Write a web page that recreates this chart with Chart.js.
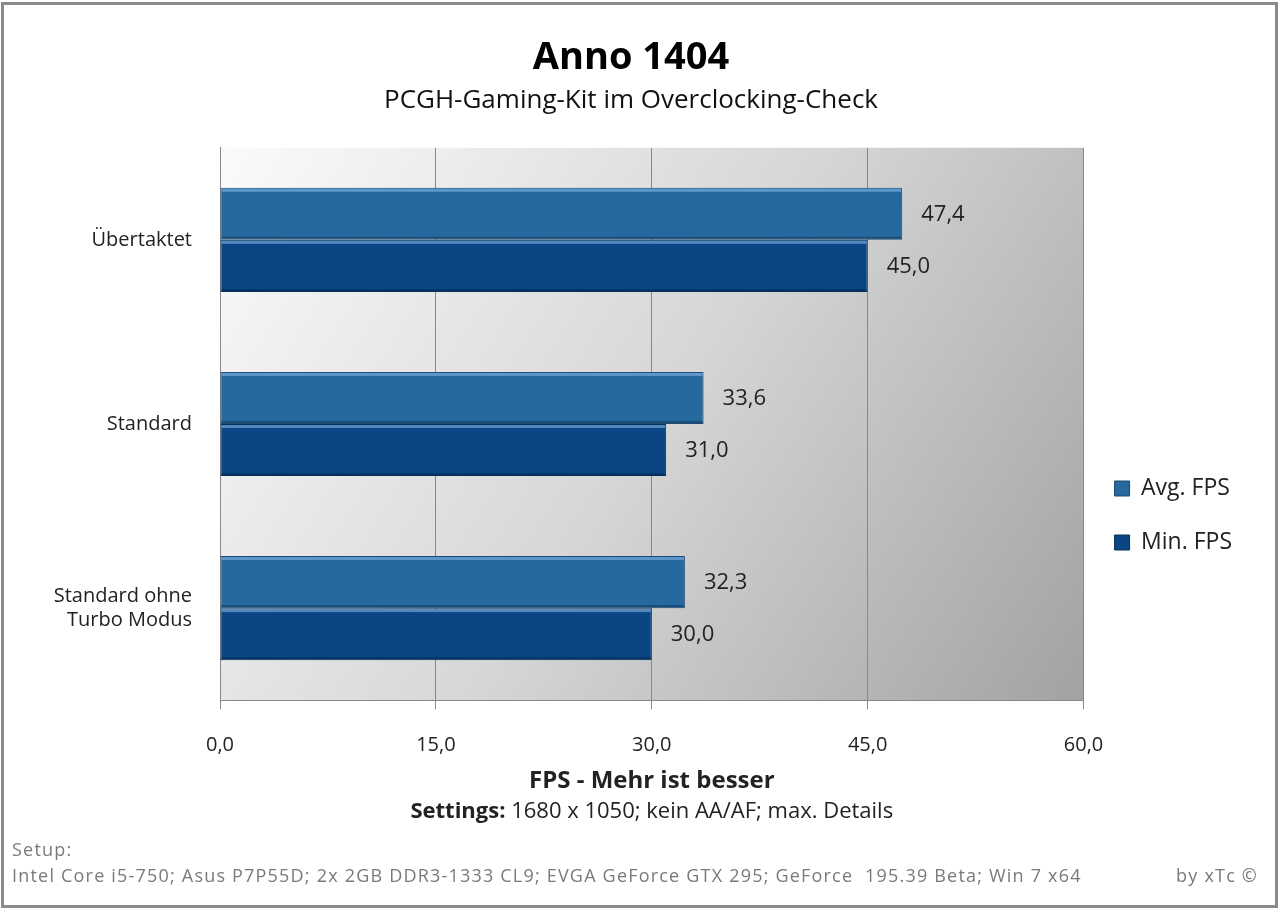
<!DOCTYPE html>
<html>
<head>
<meta charset="utf-8">
<script src="https://cdn.jsdelivr.net/npm/chart.js@4.4.1/dist/chart.umd.min.js"></script>
<style>
  html, body { margin: 0; padding: 0; background: #fff; }
  #box { position: relative; width: 1280px; height: 910px; }
</style>
</head>
<body>
<div id="box"><canvas id="chart" width="1280" height="910"></canvas></div>
<script>
const categories = [["Übertaktet"], ["Standard"], ["Standard ohne", "Turbo Modus"]];
const avgFps = [47.4, 33.6, 32.3];
const minFps = [45.0, 31.0, 30.0];
const xTicks = [0, 15, 30, 45, 60];

const avgColor = "#25699f";
const minColor = "#0a4684";
const font = "Open Sans";

const fmt = v => v.toFixed(1).replace(".", ",");

// gradient behind the plot
const plotBackground = {
  id: "plotBackground",
  beforeDraw(chart) {
    const { ctx, chartArea: a } = chart;
    const g = ctx.createLinearGradient(a.left, a.top, a.right, a.bottom);
    g.addColorStop(0, "#fbfbfb");
    g.addColorStop(0.5, "#d6d6d6");
    g.addColorStop(1, "#a2a2a2");
    ctx.save();
    ctx.fillStyle = g;
    ctx.fillRect(a.left, a.top, a.right - a.left, a.bottom - a.top);
    ctx.restore();
  }
};

// light edge on top of each bar + value labels
const barExtras = {
  id: "barExtras",
  afterDatasetsDraw(chart) {
    const { ctx } = chart;
    ctx.save();
    chart.data.datasets.forEach((ds, i) => {
      chart.getDatasetMeta(i).data.forEach((bar, j) => {
        const top = bar.y - bar.height / 2;
        ctx.fillStyle = "rgba(140,190,235,0.55)";
        ctx.fillRect(bar.base + 1, top + 1, bar.x - bar.base - 2, 3);
        ctx.fillStyle = "rgba(0,20,50,0.35)";
        ctx.fillRect(bar.base + 1, top + bar.height - 3, bar.x - bar.base - 2, 2);
        ctx.fillStyle = "#222";
        ctx.font = "22px " + font;
        ctx.textAlign = "left";
        ctx.textBaseline = "middle";
        ctx.fillText(fmt(ds.data[j]), bar.x + 19, bar.y + 1);
      });
    });
    ctx.restore();
  }
};

// settings line, footer and frame
const footer = {
  id: "footer",
  afterDraw(chart) {
    const { ctx, chartArea: a } = chart;
    ctx.save();
    ctx.textBaseline = "middle";
    ctx.fillStyle = "#222";
    const bold = "bold 22px " + font, norm = "22px " + font;
    const s1 = "Settings: ", s2 = "1680 x 1050; kein AA/AF; max. Details";
    ctx.font = bold; const w1 = ctx.measureText(s1).width;
    ctx.font = norm; const w2 = ctx.measureText(s2).width;
    let x = (a.left + a.right) / 2 - (w1 + w2) / 2;
    ctx.textAlign = "left";
    ctx.font = bold; ctx.fillText(s1, x, 812);
    ctx.font = norm; ctx.fillText(s2, x + w1, 812);

    ctx.fillStyle = "#7a7a7a";
    ctx.font = "18px " + font;
    ctx.letterSpacing = "1.2px";
    ctx.fillText("Setup:", 12, 851);
    ctx.fillText("Intel Core i5-750; Asus P7P55D; 2x 2GB DDR3-1333 CL9; EVGA GeForce GTX 295; GeForce  195.39 Beta; Win 7 x64", 12, 877);
    ctx.textAlign = "right";
    ctx.fillText("by xTc ©", 1258, 877);
    ctx.letterSpacing = "0px";

    ctx.strokeStyle = "#8a8a8a";
    ctx.lineWidth = 3;
    ctx.strokeRect(2.5, 3.5, 1274, 903);
    ctx.restore();
  }
};

new Chart(document.getElementById("chart"), {
  type: "bar",
  data: {
    labels: categories,
    datasets: [
      { label: "Avg. FPS", data: avgFps, backgroundColor: avgColor, borderColor: "#1b4b73", borderWidth: 1, borderSkipped: false },
      { label: "Min. FPS", data: minFps, backgroundColor: minColor, borderColor: "#06305a", borderWidth: 1, borderSkipped: false }
    ]
  },
  options: {
    indexAxis: "y",
    responsive: false,
    animation: false,
    categoryPercentage: 0.566,
    barPercentage: 1,
    layout: { padding: { left: 20, right: 38, top: 0, bottom: 114 } },
    scales: {
      x: {
        min: 0, max: 60,
        afterBuildTicks: s => { s.ticks = xTicks.map(v => ({ value: v })); },
        ticks: { callback: v => fmt(v), color: "#222", font: { family: font, size: 20 }, padding: 24 },
        grid: { color: "#888", lineWidth: 1, tickLength: 9, drawOnChartArea: true },
        border: { color: "#888", width: 1 },
        title: { display: true, text: "FPS - Mehr ist besser", color: "#222", font: { family: font, size: 24, weight: "bold" }, padding: { top: -14, bottom: 0 } }
      },
      y: {
        afterFit: s => { s.width = 200; },
        ticks: { color: "#222", font: { family: font, size: 20 }, padding: 20 },
        grid: { display: false },
        border: { color: "#888", width: 1 }
      }
    },
    plugins: {
      title: { display: true, text: "Anno 1404", color: "#000", font: { family: font, size: 38, weight: "bold" }, padding: { top: 35, bottom: 4 } },
      subtitle: { display: true, text: "PCGH-Gaming-Kit im Overclocking-Check", color: "#111", font: { family: font, size: 26 }, padding: { bottom: 32 } },
      legend: {
        position: "right",
        title: { display: true, text: " ", font: { size: 10 }, padding: { top: 0, bottom: 223 } },
        labels: { color: "#222", font: { family: font, size: 23 }, boxWidth: 15, boxHeight: 15, padding: 31 }
      },
      tooltip: { enabled: false }
    }
  },
  plugins: [plotBackground, barExtras, footer]
});
</script>
</body>
</html>
